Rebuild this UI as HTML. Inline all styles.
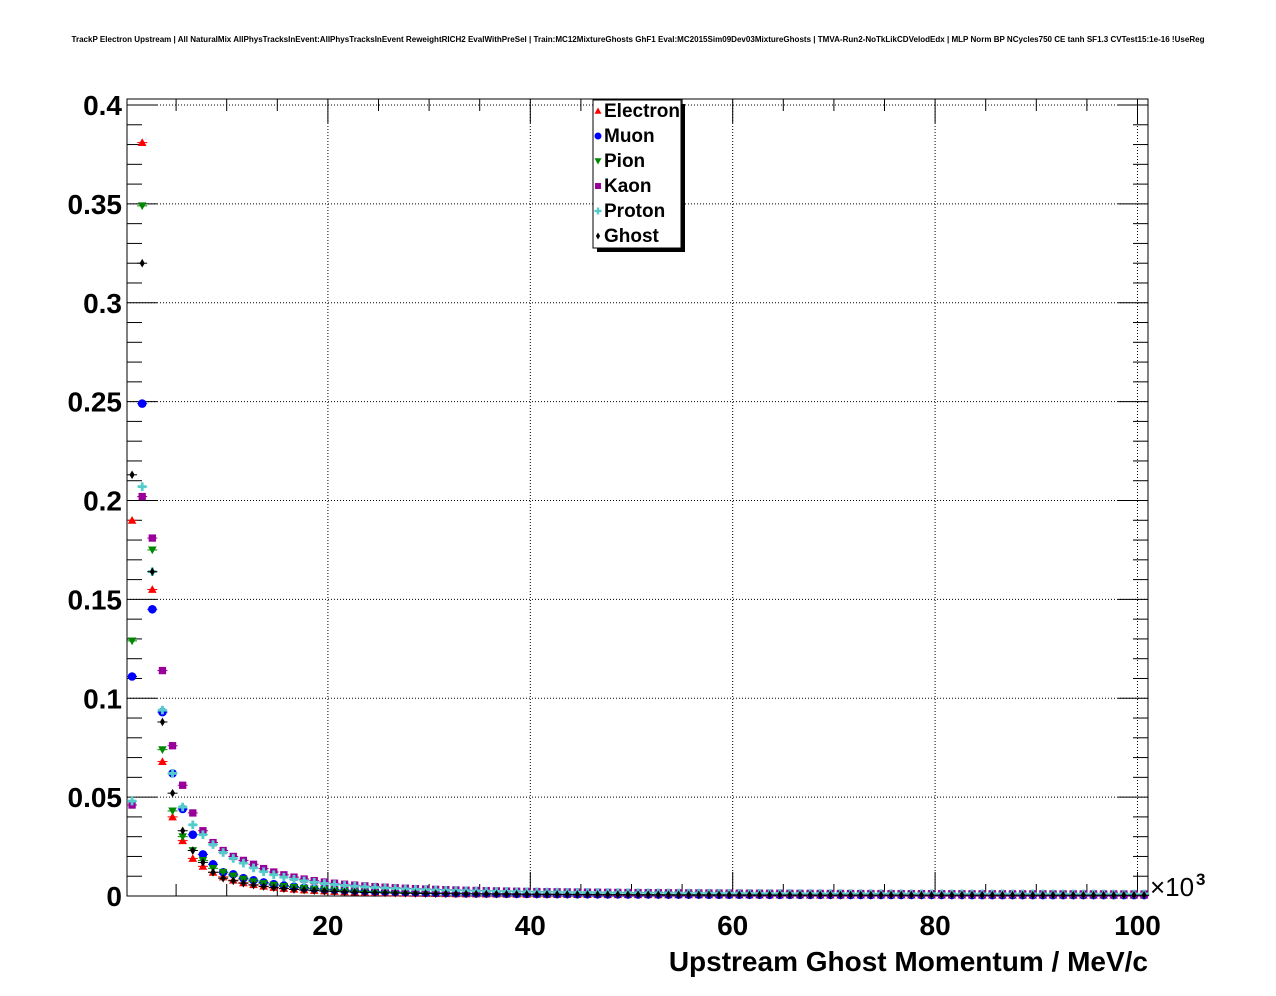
<!DOCTYPE html>
<html><head><meta charset="utf-8"><style>
body{margin:0;background:#fff;}
svg{display:block;font-family:"Liberation Sans",Arial,sans-serif;font-weight:bold;}
</style></head><body>
<svg id="s" width="1276" height="996" xmlns="http://www.w3.org/2000/svg">
<rect width="1276" height="996" fill="#fff"/>
<text x="638" y="42" font-size="8" text-anchor="middle" textLength="1133" lengthAdjust="spacingAndGlyphs">TrackP Electron Upstream | All NaturalMix AllPhysTracksInEvent:AllPhysTracksInEvent ReweightRICH2 EvalWithPreSel | Train:MC12MixtureGhosts GhF1 Eval:MC2015Sim09Dev03MixtureGhosts | TMVA-Run2-NoTkLikCDVelodEdx | MLP Norm BP NCycles750 CE tanh SF1.3 CVTest15:1e-16 !UseReg</text>
<g id="grid"></g>
<rect x="127" y="99" width="1021" height="797" fill="none" stroke="#000" stroke-width="1"/>
<g id="ticks" stroke="#000" stroke-width="1"></g>
<g id="lab" font-size="28"></g>
<g id="pts"></g>
<text x="1150" y="896" font-size="26" font-weight="normal">×10</text>
<text x="1196" y="885" font-size="17">3</text>
<text x="1148" y="971" font-size="28" text-anchor="end">Upstream Ghost Momentum / MeV/c</text>
<rect x="597" y="104" width="88" height="148" fill="#000"/>
<rect x="593" y="100" width="88" height="148" fill="#fff" stroke="#000"/>
<g font-size="19">
<text x="604" y="117">Electron</text><text x="604" y="142">Muon</text><text x="604" y="167">Pion</text>
<text x="604" y="192">Kaon</text><text x="604" y="217">Proton</text><text x="604" y="242">Ghost</text>
</g>
<g id="leg"></g>
</svg>
<script>
const NS="http://www.w3.org/2000/svg";
function el(p,t,a){const e=document.createElementNS(NS,t);for(const k in a)e.setAttribute(k,a[k]);document.getElementById(p).appendChild(e);return e;}
const Y0=896,SY=1977.5,XR=101;
const xp=v=>125.5+10.12*v, yp=v=>Y0-v*SY;
for(let v=20;v<=100;v+=20)el("grid","line",{x1:xp(v),x2:xp(v),y1:99,y2:896,stroke:"#000","stroke-dasharray":"1,2","stroke-width":1});
for(let v=0.05;v<0.401;v+=0.05)el("grid","line",{x1:127,x2:1148,y1:yp(v),y2:yp(v),stroke:"#000","stroke-dasharray":"1,2","stroke-width":1});
for(let i=1;i<=40;i++){const y=yp(i*0.01);const L=i%5==0?30:15;
el("ticks","line",{x1:127,x2:127+L,y1:y,y2:y});el("ticks","line",{x1:1148,x2:1148-L,y1:y,y2:y});}
for(let i=1;i<=20;i++){const x=xp(i*5);const L=i%4==0?24:12;
el("ticks","line",{x1:x,x2:x,y1:896,y2:896-L});el("ticks","line",{x1:x,x2:x,y1:99,y2:99+L});}
const yl=["0","0.05","0.1","0.15","0.2","0.25","0.3","0.35","0.4"];
yl.forEach((t,i)=>{const e=el("lab","text",{x:122,y:yp(i*0.05)+10,"text-anchor":"end"});e.textContent=t;});
[20,40,60,80,100].forEach(v=>{const e=el("lab","text",{x:xp(v),y:935,"text-anchor":"middle"});e.textContent=v;});
const S={
E:{c:"#f00",m:"tri",h:[0.19,0.381,0.155,0.068,0.040,0.028,0.019,0.015]},
M:{c:"#00f",m:"circ",h:[0.111,0.249,0.145,0.093,0.062,0.044,0.031,0.021,0.016,0.012,0.011,0.009]},
P:{c:"#080",m:"itri",h:[0.129,0.349,0.175,0.074,0.043,0.030,0.023,0.018,0.014,0.012]},
K:{c:"#909",m:"sq",h:[0.046,0.202,0.181,0.114,0.076,0.056,0.042,0.033,0.027,0.023,0.020,0.018]},
Pr:{c:"#5cc",m:"cross",h:[0.048,0.207,0.164,0.094,0.062,0.045,0.036,0.031,0.026,0.022,0.019]},
G:{c:"#000",m:"dia",h:[0.213,0.320,0.164,0.088,0.052,0.033,0.023,0.017,0.012,0.009]}};
function mark(g,m,c,x,y,s){
 if(m=="tri")el(g,"polygon",{points:`${x},${y-s} ${x-s},${y+s*0.8} ${x+s},${y+s*0.8}`,fill:c});
 else if(m=="itri")el(g,"polygon",{points:`${x},${y+s} ${x-s},${y-s*0.8} ${x+s},${y-s*0.8}`,fill:c});
 else if(m=="circ")el(g,"circle",{cx:x,cy:y,r:s,fill:c});
 else if(m=="sq")el(g,"rect",{x:x-s*0.85,y:y-s*0.85,width:s*1.7,height:s*1.7,fill:c});
 else if(m=="cross"){el(g,"rect",{x:x-s,y:y-s/3,width:2*s,height:2*s/3,fill:c});el(g,"rect",{x:x-s/3,y:y-s,width:2*s/3,height:2*s,fill:c});}
 else el(g,"polygon",{points:`${x},${y-s} ${x-s*0.6},${y} ${x},${y+s} ${x+s*0.6},${y}`,fill:c});
}
for(const k of ["E","M","P","K","Pr","G"]){const d=S[k];const h=d.h.slice();
 const n=h.length,last=h[n-1];
 for(let i=n;i<101;i++)h.push(last*Math.pow((n-0.5)/(i+0.5),2.0)+0.0008*(k=="K"||k=="Pr"?1:0.4));
 h.forEach((v,i)=>{const x=xp(i+0.65),y=yp(v);if(x>1146)return;
  el("pts","line",{x1:x-5,x2:x+5,y1:y,y2:y,stroke:d.c,"stroke-width":1});
  mark("pts",d.m,d.c,x,y,4.3);});
 const ly={E:111,M:136,P:161,K:186,Pr:211,G:236}[k];
 mark("leg",d.m,d.c,598,ly,3.5);
}
</script>
</body></html>
